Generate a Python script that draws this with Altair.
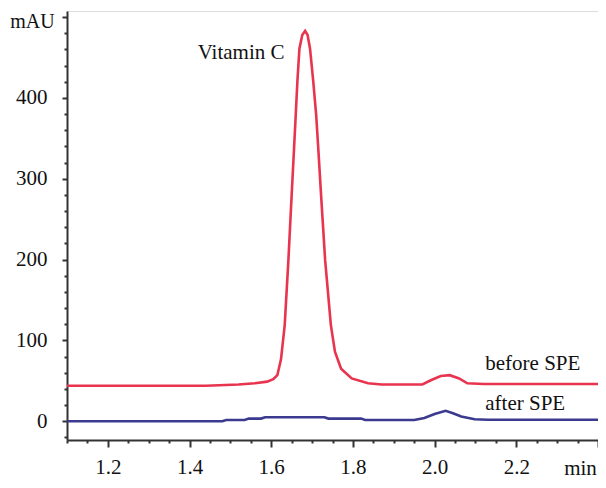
import altair as alt
import pandas as pd

# before SPE (red trace)
red_t = [1.10, 1.44, 1.52, 1.56, 1.59, 1.605, 1.615, 1.624, 1.633, 1.642, 1.650, 1.656, 1.660,
         1.664, 1.669, 1.676, 1.683, 1.689, 1.695, 1.703, 1.710, 1.715, 1.722, 1.732, 1.746,
         1.756, 1.771, 1.797, 1.837, 1.870, 1.970, 1.992, 2.015, 2.037, 2.060, 2.080, 2.120, 2.400]
red_v = [44, 44, 45.5, 47, 49, 52, 57, 77, 119, 199, 280, 339, 379,
         420, 461, 478, 483, 478, 461, 420, 379, 339, 280, 199, 119,
         86, 65, 53, 47, 45.5, 45.5, 51, 56, 57, 53, 47, 46, 46]

# after SPE (blue trace)
blue_t = [1.10, 1.48, 1.49, 1.535, 1.545, 1.575, 1.585, 1.73, 1.74, 1.82, 1.83, 1.95, 1.975,
          2.000, 2.027, 2.045, 2.065, 2.098, 2.130, 2.400]
blue_v = [0, 0, 1.6, 1.6, 3.3, 3.3, 5, 5, 3.3, 3.3, 1.6, 1.6, 4,
          9, 13, 10, 6, 2.5, 1.8, 1.8]

labels = ["Vitamin C", "before SPE", "after SPE"]
label_t = [1.42, 2.124, 2.124]
label_v = [456, 71, 21]

x_ticks = [round(1.10 + 0.05 * i, 2) for i in range(27)]
y_ticks = [-20 + 20 * i for i in range(27)]

df = pd.concat([
    pd.DataFrame({"t": red_t, "v": red_v, "s": "before SPE"}),
    pd.DataFrame({"t": blue_t, "v": blue_v, "s": "after SPE"}),
])
lab = pd.DataFrame({"label": labels, "t": label_t, "v": label_v})

FONT = "Liberation Serif"
AX = "#333333"
TXT = "#111111"

xscale = alt.Scale(domain=[1.1, 2.4], nice=False, zero=False)
yscale = alt.Scale(domain=[-23.2, 507.6], nice=False, zero=False)

x_axis = alt.Axis(
    values=x_ticks, tickCount=500,
    labelExpr="abs(datum.value*5 - round(datum.value*5)) < 0.001 && datum.value < 2.3 ? format(datum.value, '.1f') : ''",
    tickSize={"condition": {"test": "abs(datum.value*5 - round(datum.value*5)) < 0.001", "value": 7}, "value": 3},
    tickWidth=2, tickColor=AX, domainColor=AX, domainWidth=2,
    labelFont=FONT, labelFontSize=21, labelColor=TXT, labelPadding=9,
    labelOverlap=False, labelFlush=False, grid=False,
    title="min", titleFont=FONT, titleFontSize=21, titleFontWeight="normal", titleColor=TXT,
    titleAnchor="start", titleAlign="center", titleX=513, titleY=34, titleBaseline="alphabetic",
)
y_axis = alt.Axis(
    values=y_ticks, tickCount=500,
    labelExpr="datum.value % 100 === 0 && datum.value >= 0 && datum.value <= 400 ? format(datum.value, 'd') : ''",
    tickSize={"condition": {"test": "datum.value % 100 === 0", "value": 5}, "value": 3},
    tickWidth=2, tickColor=AX, domainColor=AX, domainWidth=2,
    labelFont=FONT, labelFontSize=21, labelColor=TXT, labelPadding=15,
    labelOverlap=False, labelFlush=False, grid=False,
    title="mAU", titleFont=FONT, titleFontSize=20, titleFontWeight="normal", titleColor=TXT,
    titleAngle=0, titleAlign="center", titleBaseline="middle", titleX=-35, titleY=10,
)

lines = alt.Chart(df).mark_line(strokeWidth=2.6, interpolate="linear").encode(
    x=alt.X("t:Q", scale=xscale, axis=x_axis),
    y=alt.Y("v:Q", scale=yscale, axis=y_axis),
    color=alt.Color("s:N", scale=alt.Scale(domain=["before SPE", "after SPE"],
                                           range=["#e8344e", "#3b3a8e"]), legend=None),
    detail="s:N",
)

texts = alt.Chart(lab).mark_text(align="left", baseline="middle", font=FONT, fontSize=21,
                                 color=TXT).encode(
    x=alt.X("t:Q", scale=xscale),
    y=alt.Y("v:Q", scale=yscale),
    text="label:N",
)

chart = alt.layer(lines, texts).properties(
    width=531, height=429,
    autosize=alt.AutoSizeParams(type="none"),
    padding={"left": 59, "top": 3, "right": 0, "bottom": 40},
).configure_view(stroke=None).configure(background="white")

chart.save("out.html", embed_options={"renderer": "svg", "actions": False})
